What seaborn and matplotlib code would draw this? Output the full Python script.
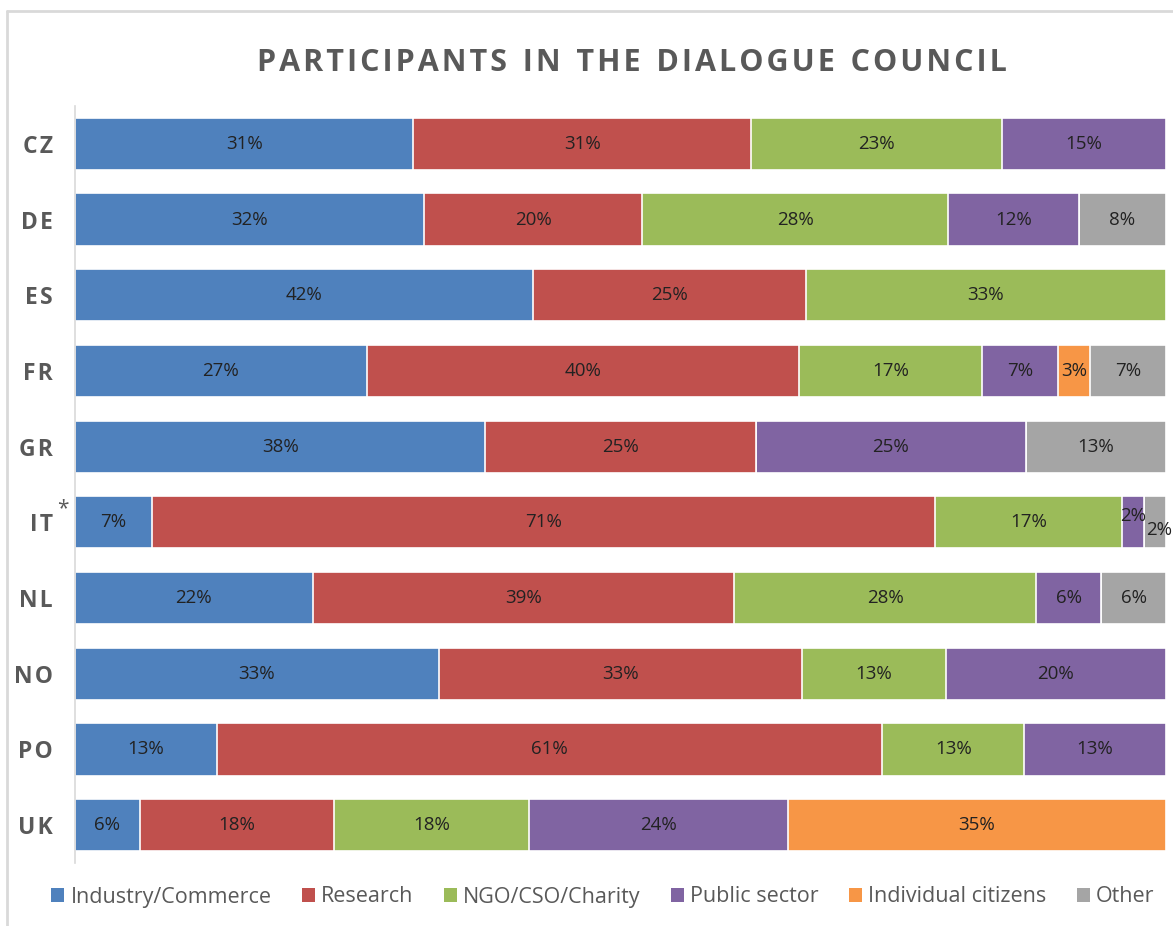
import numpy as np
import pandas as pd
import seaborn as sns
import matplotlib.pyplot as plt
from matplotlib.lines import Line2D
from matplotlib.patches import Patch

countries = ["CZ", "DE", "ES", "FR", "GR", "IT", "NL", "NO", "PO", "UK"]
groups = ["Industry/Commerce", "Research", "NGO/CSO/Charity", "Public sector",
          "Individual citizens", "Other"]
colors = ["#4F81BD", "#C0504D", "#9BBB59", "#8064A2", "#F79646", "#A5A5A5"]

industry = [31, 32, 42, 27, 38, 7, 22, 33, 13, 6]
research = [31, 20, 25, 40, 25, 71, 39, 33, 61, 18]
ngo = [23, 28, 33, 17, 0, 17, 28, 13, 13, 18]
public = [15, 12, 0, 7, 25, 2, 6, 20, 13, 24]
citizens = [0, 0, 0, 3, 0, 0, 0, 0, 0, 35]
other = [0, 8, 0, 7, 13, 2, 6, 0, 0, 0]

vals = np.array([industry, research, ngo, public, citizens, other], dtype=float)
shares = vals / vals.sum(axis=0) * 100
cum = np.cumsum(shares, axis=0)

sns.set_theme(style="white")
plt.rcParams["font.family"] = ["Open Sans", "DejaVu Sans"]

fig = plt.figure(figsize=(11.73, 9.26), dpi=100)
ax = fig.add_axes([75 / 1173, 1 - 863 / 926, (1166 - 75) / 1173, (863 - 106) / 926])

# stack by overlaying cumulative totals, widest first
for i in range(len(groups) - 1, -1, -1):
    df = pd.DataFrame({"country": countries, "value": cum[i]})
    sns.barplot(data=df, x="value", y="country", color=colors[i], orient="h",
                width=0.69, saturation=1, edgecolor="white", linewidth=1.2, ax=ax)

for i in range(len(groups)):
    for j, c in enumerate(countries):
        if vals[i, j] == 0:
            continue
        xc = cum[i, j] - shares[i, j] / 2
        yc = j
        if c == "IT" and groups[i] == "Public sector":
            yc = j - 0.08
        if c == "IT" and groups[i] == "Other":
            yc = j + 0.1
            xc += 0.4
        ax.text(xc, yc, f"{int(vals[i, j])}%", ha="center", va="center",
                fontsize=13.5, color="#222222")

ax.set_xlim(0, 100)
ax.set_ylim(9.5, -0.5)
ax.set_xlabel("")
ax.set_ylabel("")
ax.set_xticks([])
ax.set_yticks(range(len(countries)))
ax.set_yticklabels(["\u200a".join(c) for c in countries], fontsize=16.5,
                   fontweight="bold", color="#595959")
ax.tick_params(axis="y", length=0, pad=16)
for s in ["top", "right", "bottom"]:
    ax.spines[s].set_visible(False)
ax.spines["left"].set_color("#D9D9D9")
ax.spines["left"].set_linewidth(1.2)

# superscript star on IT
fig.text(57 / 1173, 1 - 509 / 926, "*", fontsize=15, color="#595959",
         ha="left", va="center")

title = "PARTICIPANTS IN THE DIALOGUE COUNCIL"
spaced = "  ".join("\u200a".join(w) for w in title.split(" "))
fig.text(632 / 1173, 1 - 63 / 926, spaced,
         ha="center", va="center", fontsize=22, fontweight="bold", color="#595959")

handles = [Patch(facecolor=colors[i], edgecolor="none", label=groups[i]) for i in range(len(groups))]
fig.legend(handles=handles, loc="center", bbox_to_anchor=(603 / 1173, 1 - 897 / 926), ncol=6,
           frameon=False, fontsize=15.5, handlelength=0.6, handleheight=0.6,
           handletextpad=0.3, columnspacing=1.4, labelcolor="#595959")

# chart area border (left and top visible)
fig.add_artist(Line2D([7 / 1173, 7 / 1173], [0, 1 - 11 / 926], transform=fig.transFigure,
                      color="#D9D9D9", linewidth=2))
fig.add_artist(Line2D([7 / 1173, 1], [1 - 11 / 926, 1 - 11 / 926], transform=fig.transFigure,
                      color="#D9D9D9", linewidth=2))

fig.savefig("out.png", dpi=100)
